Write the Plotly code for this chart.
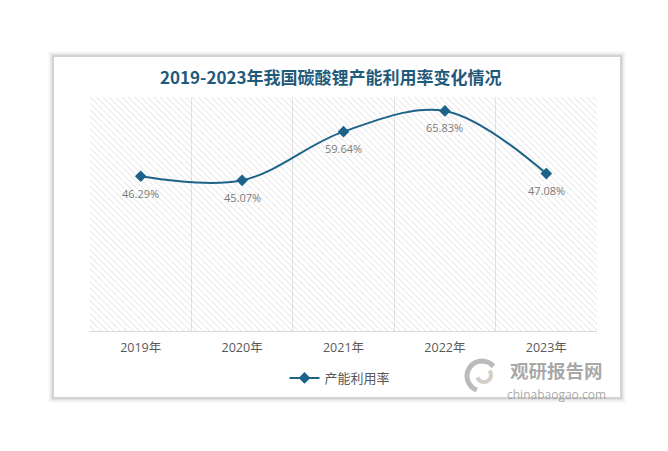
import math
import plotly.graph_objects as go

categories = ["2019年", "2020年", "2021年", "2022年", "2023年"]
utilization = [46.29, 45.07, 59.64, 65.83, 47.08]
labels = [f"{v:.2f}%" for v in utilization]
series_name = "产能利用率"
title_text = "2019-2023年我国碳酸锂产能利用率变化情况"
y_max = 70

OFF = 8  # default page body margin
W, H = 668 - 2 * OFF, 451 - 2 * OFF
L, R, T, B = 90 - OFF, 597 - OFF, 97 - OFF, 331 - OFF
pw, ph = R - L, B - T

def px(x):
    return (x - OFF - L) / pw

def py(y):
    return (B - (y - OFF)) / ph

LINE = "#1d6389"

fig = go.Figure()

fig.add_trace(go.Bar(
    x=categories, y=[y_max] * len(categories), width=1,
    marker=dict(color="rgba(0,0,0,0)", line=dict(width=0),
                pattern=dict(shape="\\", fgcolor="#b8b8b8", bgcolor="rgba(0,0,0,0)",
                             size=4.5, solidity=0.2)),
    hoverinfo="skip", showlegend=False,
))

fig.add_trace(go.Scatter(
    x=categories, y=utilization, name=series_name,
    mode="lines+markers",
    line=dict(color=LINE, width=2, shape="spline", smoothing=1),
    marker=dict(symbol="diamond", size=9, color=LINE),
))

shapes = []
for i, op in enumerate([0.015, 0.022, 0.03, 0.045, 0.065]):
    d = 6 - i
    shapes.append(dict(type="rect", xref="paper", yref="paper",
                       x0=px(54 - d), x1=px(620 + d), y0=py(397 + d), y1=py(57 - d),
                       line=dict(width=0), fillcolor=f"rgba(0,0,0,{op})", layer="below"))
shapes.append(dict(type="rect", xref="paper", yref="paper",
                   x0=px(54), x1=px(620), y0=py(397), y1=py(57),
                   line=dict(width=0), fillcolor="white", layer="below"))

# watermark swirl logo (decorative)
def arc_path(cx, cy, r, a0, a1, n=20):
    pts = []
    for k in range(n + 1):
        a = math.radians(a0 + (a1 - a0) * k / n)
        pts.append((px(cx + r * math.cos(a)), py(cy - r * math.sin(a))))
    return "M " + " L ".join(f"{x:.5f},{y:.5f}" for x, y in pts)

shapes.append(dict(type="path", xref="paper", yref="paper",
                   path=arc_path(482, 376, 15, 40, 250),
                   line=dict(color="rgba(170,170,170,0.8)", width=5), layer="above"))
shapes.append(dict(type="path", xref="paper", yref="paper",
                   path=arc_path(484, 375, 7, 200, 400),
                   line=dict(color="rgba(200,195,185,0.8)", width=4), layer="above"))

annotations = [
    dict(text=f"<b>{title_text}</b>", x=px(331), y=py(76), xref="paper", yref="paper",
         showarrow=False, xanchor="center", yanchor="middle",
         font=dict(size=17, color="#1f5a7a", family="Noto Sans CJK SC")),
    dict(text="<b>观研报告网</b>", x=px(508), y=py(384.5), xref="paper", yref="paper",
         showarrow=False, xanchor="left", yanchor="bottom",
         font=dict(size=18.5, color="rgba(140,140,140,0.75)", family="Noto Sans CJK SC")),
    dict(text="chinabaogao.com", x=px(505), y=py(384), xref="paper", yref="paper",
         showarrow=False, xanchor="left", yanchor="top",
         font=dict(size=12, color="rgba(140,140,140,0.75)", family="Open Sans")),
]
for c, v, t in zip(categories, utilization, labels):
    annotations.append(dict(x=c, y=v, xref="x", yref="y", text=t, showarrow=False,
                            yshift=-17, xanchor="center", yanchor="middle",
                            font=dict(size=11, color="#7a7a7a", family="Open Sans")))

fig.update_layout(
    width=W, height=H,
    margin=dict(l=L, r=W - R, t=T, b=H - B),
    paper_bgcolor="white", plot_bgcolor="rgba(0,0,0,0)",
    shapes=shapes, annotations=annotations,
    bargap=0,
    showlegend=True,
    legend=dict(orientation="h", x=px(340), xanchor="center", y=py(378), yanchor="middle",
                font=dict(size=13, color="#595959", family="Noto Sans CJK SC"),
                bgcolor="rgba(0,0,0,0)"),
    font=dict(family="Open Sans, Noto Sans CJK SC"),
)
fig.update_xaxes(
    type="category", tickson="boundaries", showgrid=True, gridcolor="#e3e3e3", gridwidth=1,
    showline=True, linecolor="#d9d9d9", linewidth=1,
    ticks="", ticklabelstandoff=5,
    tickfont=dict(size=12.5, color="#595959", family="Open Sans, Noto Sans CJK SC"),
    range=[-0.5, len(categories) - 0.5], fixedrange=True,
)
fig.update_yaxes(range=[0, y_max], showgrid=False, showticklabels=False, zeroline=False,
                 showline=False, fixedrange=True)

fig.write_html("out.html")
